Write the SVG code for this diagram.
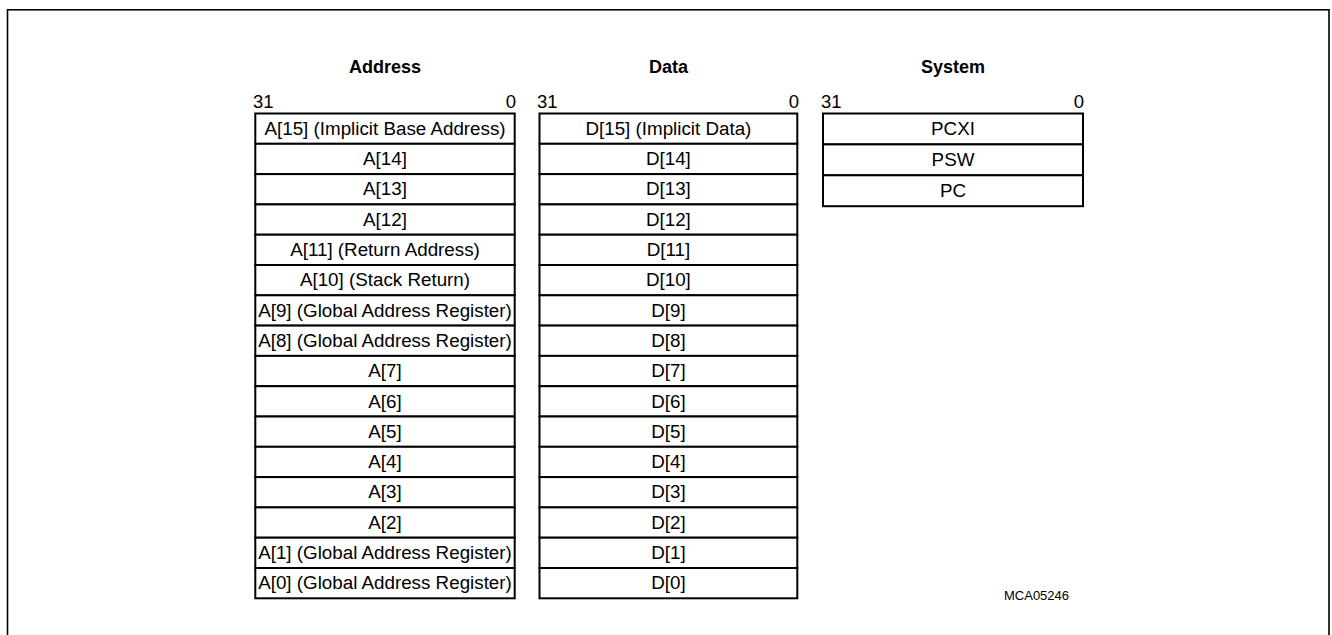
<svg xmlns="http://www.w3.org/2000/svg" width="1332" height="635" viewBox="0 0 1332 635">
<style>
.frame{fill:none;stroke:#000;stroke-width:1.6}
.reg{fill:#fff;stroke:#000;stroke-width:2}
.t{font-family:"Liberation Sans",Arial,sans-serif;font-size:18.8px;fill:#000;text-anchor:middle}
.h{font-family:"Liberation Sans",Arial,sans-serif;font-size:18px;font-weight:bold;fill:#000;text-anchor:middle}
.b{font-family:"Liberation Sans",Arial,sans-serif;font-size:18.5px;fill:#000}
.id{font-family:"Liberation Sans",Arial,sans-serif;font-size:13px;fill:#000}
</style>
<rect width="1332" height="635" fill="#fff"/>
<rect class="frame" x="7.5" y="9.8" width="1321.5" height="640"/>
<g id="headers">
<text class="h" x="385" y="72.5">Address</text>
<text class="h" x="668.5" y="72.5">Data</text>
<text class="h" x="953" y="72.5">System</text>
</g>
<g id="bitlabels">
<text class="b" x="253" y="107.5">31</text>
<text class="b" x="516" y="107.5" text-anchor="end">0</text>
<text class="b" x="537" y="107.5">31</text>
<text class="b" x="799" y="107.5" text-anchor="end">0</text>
<text class="b" x="821" y="107.5">31</text>
<text class="b" x="1084" y="107.5" text-anchor="end">0</text>
</g>
<g id="address">
<g id="A15"><rect class="reg" x="255.3" y="113.5" width="259.4" height="30.3"/><text class="t" x="385" y="134.8">A[15] (Implicit Base Address)</text></g>
<g id="A14"><rect class="reg" x="255.3" y="143.8" width="259.4" height="30.3"/><text class="t" x="385" y="165.1">A[14]</text></g>
<g id="A13"><rect class="reg" x="255.3" y="174.1" width="259.4" height="30.3"/><text class="t" x="385" y="195.4">A[13]</text></g>
<g id="A12"><rect class="reg" x="255.3" y="204.4" width="259.4" height="30.3"/><text class="t" x="385" y="225.7">A[12]</text></g>
<g id="A11"><rect class="reg" x="255.3" y="234.7" width="259.4" height="30.3"/><text class="t" x="385" y="256.0">A[11] (Return Address)</text></g>
<g id="A10"><rect class="reg" x="255.3" y="265.0" width="259.4" height="30.3"/><text class="t" x="385" y="286.3">A[10] (Stack Return)</text></g>
<g id="A9"><rect class="reg" x="255.3" y="295.3" width="259.4" height="30.3"/><text class="t" x="385" y="316.6">A[9] (Global Address Register)</text></g>
<g id="A8"><rect class="reg" x="255.3" y="325.6" width="259.4" height="30.3"/><text class="t" x="385" y="346.9">A[8] (Global Address Register)</text></g>
<g id="A7"><rect class="reg" x="255.3" y="355.9" width="259.4" height="30.3"/><text class="t" x="385" y="377.2">A[7]</text></g>
<g id="A6"><rect class="reg" x="255.3" y="386.2" width="259.4" height="30.3"/><text class="t" x="385" y="407.5">A[6]</text></g>
<g id="A5"><rect class="reg" x="255.3" y="416.5" width="259.4" height="30.3"/><text class="t" x="385" y="437.8">A[5]</text></g>
<g id="A4"><rect class="reg" x="255.3" y="446.8" width="259.4" height="30.3"/><text class="t" x="385" y="468.1">A[4]</text></g>
<g id="A3"><rect class="reg" x="255.3" y="477.1" width="259.4" height="30.3"/><text class="t" x="385" y="498.4">A[3]</text></g>
<g id="A2"><rect class="reg" x="255.3" y="507.4" width="259.4" height="30.3"/><text class="t" x="385" y="528.7">A[2]</text></g>
<g id="A1"><rect class="reg" x="255.3" y="537.7" width="259.4" height="30.3"/><text class="t" x="385" y="559.0">A[1] (Global Address Register)</text></g>
<g id="A0"><rect class="reg" x="255.3" y="568.0" width="259.4" height="30.3"/><text class="t" x="385" y="589.3">A[0] (Global Address Register)</text></g>
</g>
<g id="data">
<g id="D15"><rect class="reg" x="539.5" y="113.5" width="257.8" height="30.3"/><text class="t" x="668.4" y="134.8">D[15] (Implicit Data)</text></g>
<g id="D14"><rect class="reg" x="539.5" y="143.8" width="257.8" height="30.3"/><text class="t" x="668.4" y="165.1">D[14]</text></g>
<g id="D13"><rect class="reg" x="539.5" y="174.1" width="257.8" height="30.3"/><text class="t" x="668.4" y="195.4">D[13]</text></g>
<g id="D12"><rect class="reg" x="539.5" y="204.4" width="257.8" height="30.3"/><text class="t" x="668.4" y="225.7">D[12]</text></g>
<g id="D11"><rect class="reg" x="539.5" y="234.7" width="257.8" height="30.3"/><text class="t" x="668.4" y="256.0">D[11]</text></g>
<g id="D10"><rect class="reg" x="539.5" y="265.0" width="257.8" height="30.3"/><text class="t" x="668.4" y="286.3">D[10]</text></g>
<g id="D9"><rect class="reg" x="539.5" y="295.3" width="257.8" height="30.3"/><text class="t" x="668.4" y="316.6">D[9]</text></g>
<g id="D8"><rect class="reg" x="539.5" y="325.6" width="257.8" height="30.3"/><text class="t" x="668.4" y="346.9">D[8]</text></g>
<g id="D7"><rect class="reg" x="539.5" y="355.9" width="257.8" height="30.3"/><text class="t" x="668.4" y="377.2">D[7]</text></g>
<g id="D6"><rect class="reg" x="539.5" y="386.2" width="257.8" height="30.3"/><text class="t" x="668.4" y="407.5">D[6]</text></g>
<g id="D5"><rect class="reg" x="539.5" y="416.5" width="257.8" height="30.3"/><text class="t" x="668.4" y="437.8">D[5]</text></g>
<g id="D4"><rect class="reg" x="539.5" y="446.8" width="257.8" height="30.3"/><text class="t" x="668.4" y="468.1">D[4]</text></g>
<g id="D3"><rect class="reg" x="539.5" y="477.1" width="257.8" height="30.3"/><text class="t" x="668.4" y="498.4">D[3]</text></g>
<g id="D2"><rect class="reg" x="539.5" y="507.4" width="257.8" height="30.3"/><text class="t" x="668.4" y="528.7">D[2]</text></g>
<g id="D1"><rect class="reg" x="539.5" y="537.7" width="257.8" height="30.3"/><text class="t" x="668.4" y="559.0">D[1]</text></g>
<g id="D0"><rect class="reg" x="539.5" y="568.0" width="257.8" height="30.3"/><text class="t" x="668.4" y="589.3">D[0]</text></g>
</g>
<g id="system">
<g id="PCXI"><rect class="reg" x="823" y="113.5" width="260" height="30.9"/><text class="t" x="953" y="135.1">PCXI</text></g>
<g id="PSW"><rect class="reg" x="823" y="144.4" width="260" height="30.9"/><text class="t" x="953" y="166.0">PSW</text></g>
<g id="PC"><rect class="reg" x="823" y="175.3" width="260" height="30.9"/><text class="t" x="953" y="196.9">PC</text></g>
</g>
<g id="connectors"></g>
<text class="id" x="1004" y="600">MCA05246</text>
</svg>
